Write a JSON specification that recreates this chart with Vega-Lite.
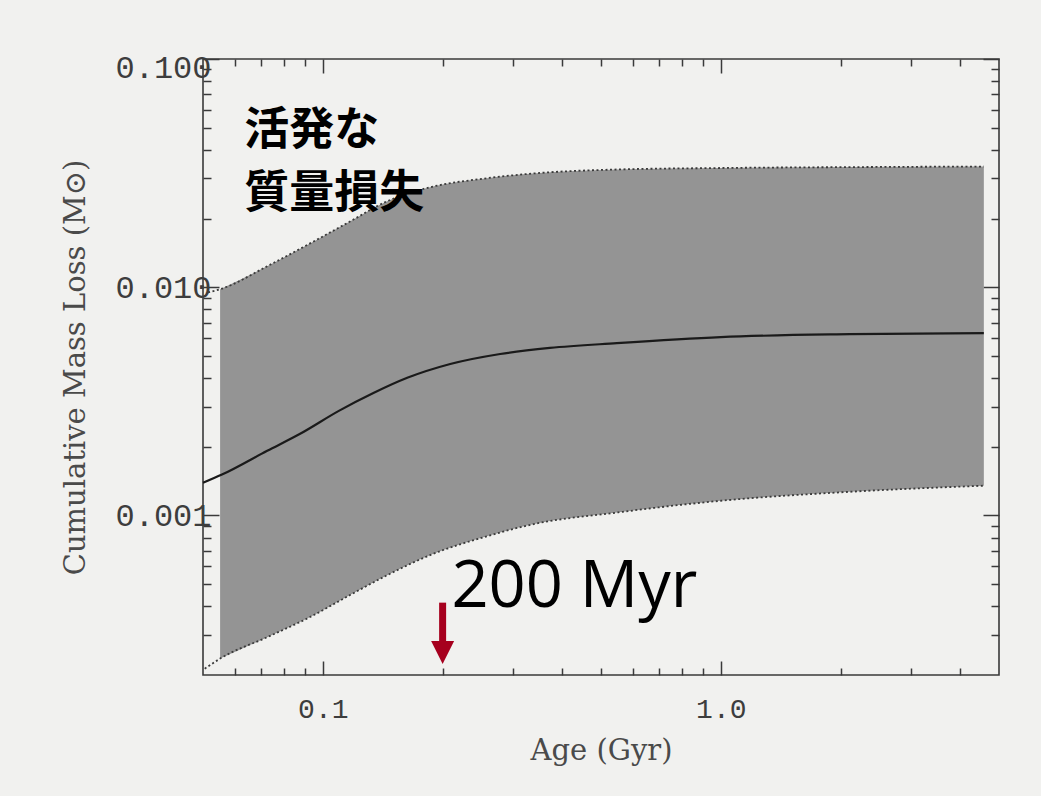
{
  "$schema": "https://vega.github.io/schema/vega-lite/v6.json",
  "width": 796,
  "height": 616,
  "autosize": {"type": "none"},
  "padding": {"left": 203, "top": 59, "right": 42, "bottom": 121},
  "background": "#f1f1ef",
  "config": {
    "view": {"stroke": "#3a3a3a", "strokeWidth": 1.6},
    "axis": {
      "domain": false,
      "grid": false,
      "labelFont": "Liberation Mono",
      "titleFont": "DejaVu Serif",
      "labelColor": "#3d3d3d",
      "titleColor": "#4a4a4a",
      "tickColor": "#3a3a3a",
      "tickWidth": 1.5,
      "labelFontSize": 28,
      "titleFontSize": 29,
      "titleFontWeight": "normal",
      "labelOverlap": false,
      "labelBound": false
    }
  },
  "datasets": {
    "band": [
      {"age": 0.0552, "lo": 0.000236, "hi": 0.0098},
      {"age": 0.0725, "lo": 0.000293, "hi": 0.01236},
      {"age": 0.0929, "lo": 0.000359, "hi": 0.01556},
      {"age": 0.117, "lo": 0.000448, "hi": 0.0194},
      {"age": 0.145, "lo": 0.000547, "hi": 0.0238},
      {"age": 0.189, "lo": 0.000678, "hi": 0.0276},
      {"age": 0.253, "lo": 0.000802, "hi": 0.0299},
      {"age": 0.337, "lo": 0.000915, "hi": 0.0315},
      {"age": 0.548, "lo": 0.00103, "hi": 0.0328},
      {"age": 1.0, "lo": 0.00116, "hi": 0.0333},
      {"age": 2.11, "lo": 0.00127, "hi": 0.0336},
      {"age": 4.58, "lo": 0.00135, "hi": 0.0338}
    ],
    "upper": [
      {"age": 0.0515, "v": 0.0095},
      {"age": 0.0552, "v": 0.0098},
      {"age": 0.0725, "v": 0.01236},
      {"age": 0.0929, "v": 0.01556},
      {"age": 0.117, "v": 0.0194},
      {"age": 0.145, "v": 0.0238},
      {"age": 0.189, "v": 0.0276},
      {"age": 0.253, "v": 0.0299},
      {"age": 0.337, "v": 0.0315},
      {"age": 0.548, "v": 0.0328},
      {"age": 1.0, "v": 0.0333},
      {"age": 2.11, "v": 0.0336},
      {"age": 4.58, "v": 0.0338}
    ],
    "lower": [
      {"age": 0.0505, "v": 0.000213},
      {"age": 0.0552, "v": 0.000236},
      {"age": 0.0725, "v": 0.000293},
      {"age": 0.0929, "v": 0.000359},
      {"age": 0.117, "v": 0.000448},
      {"age": 0.145, "v": 0.000547},
      {"age": 0.189, "v": 0.000678},
      {"age": 0.253, "v": 0.000802},
      {"age": 0.337, "v": 0.000915},
      {"age": 0.548, "v": 0.00103},
      {"age": 1.0, "v": 0.00116},
      {"age": 2.11, "v": 0.00127},
      {"age": 4.58, "v": 0.00135}
    ],
    "mid": [
      {"age": 0.05, "v": 0.00139},
      {"age": 0.0558, "v": 0.00151},
      {"age": 0.0725, "v": 0.00192},
      {"age": 0.0877, "v": 0.00228},
      {"age": 0.11, "v": 0.00288},
      {"age": 0.134, "v": 0.00344},
      {"age": 0.163, "v": 0.00401},
      {"age": 0.209, "v": 0.00461},
      {"age": 0.279, "v": 0.0051},
      {"age": 0.372, "v": 0.00542},
      {"age": 0.548, "v": 0.00569},
      {"age": 1.0, "v": 0.00605},
      {"age": 2.11, "v": 0.00623},
      {"age": 4.58, "v": 0.0063}
    ],
    "jp": [
      {"age": 0.0635, "v": 0.0483, "label": "活発な"},
      {"age": 0.0635, "v": 0.0256, "label": "質量損失"}
    ],
    "myr": [
      {"age": 0.2104, "v": 0.000399, "label": "200 Myr"}
    ],
    "arrow": [
      {"age": 0.2, "top": 0.000415, "bot": 0.000275, "head": 0.000251}
    ]
  },
  "layer": [
    {
      "data": {"name": "band"},
      "mark": {"type": "area", "interpolate": "monotone", "color": "#949494", "opacity": 1},
      "encoding": {
        "x": {
          "field": "age", "type": "quantitative",
          "scale": {"type": "log", "domain": [0.05, 5], "nice": false},
          "axis": {
            "orient": "bottom",
            "values": [0.06, 0.07, 0.08, 0.09, 0.1, 0.2, 0.3, 0.4, 0.5, 0.6, 0.7, 0.8, 0.9, 1, 2, 3, 4],
            "labelExpr": "datum.value == 0.1 ? '0.1' : datum.value == 1 ? '1.0' : ''",
            "tickSize": {"condition": {"test": "datum.value == 0.1 || datum.value == 1", "value": -14}, "value": -7},
            "labelPadding": 34,
            "title": "Age (Gyr)",
            "titlePadding": 6
          }
        },
        "y": {
          "field": "lo", "type": "quantitative",
          "scale": {"type": "log", "domain": [0.0002, 0.1], "nice": false},
          "axis": {
            "orient": "left",
            "values": [0.0003, 0.0004, 0.0005, 0.0006, 0.0007, 0.0008, 0.0009, 0.001, 0.002, 0.003, 0.004, 0.005, 0.006, 0.007, 0.008, 0.009, 0.01, 0.02, 0.03, 0.04, 0.05, 0.06, 0.07, 0.08, 0.09, 0.1],
            "labelExpr": "datum.value == 0.1 ? '0.100' : datum.value == 0.01 ? '0.010' : datum.value == 0.001 ? '0.001' : ''",
            "labelFontSize": 32,
            "tickSize": {"condition": {"test": "datum.value == 0.1 || datum.value == 0.01 || datum.value == 0.001", "value": -16}, "value": -8},
            "labelPadding": 8,
            "labelFlush": 3,
            "labelFlushOffset": 7,
            "title": "Cumulative Mass Loss (M⊙)",
            "titlePadding": 24
          }
        },
        "y2": {"field": "hi"}
      }
    },
    {
      "data": {"name": "upper"},
      "mark": {"type": "line", "interpolate": "monotone", "color": "#3a3a3a", "strokeWidth": 1.8, "strokeDash": [2, 2.5]},
      "encoding": {
        "x": {"field": "age", "type": "quantitative", "scale": {"type": "log", "domain": [0.05, 5], "nice": false}, "axis": null},
        "y": {"field": "v", "type": "quantitative", "scale": {"type": "log", "domain": [0.0002, 0.1], "nice": false}, "axis": null}
      }
    },
    {
      "data": {"name": "lower"},
      "mark": {"type": "line", "interpolate": "monotone", "color": "#3a3a3a", "strokeWidth": 1.8, "strokeDash": [2, 2.5]},
      "encoding": {
        "x": {"field": "age", "type": "quantitative", "scale": {"type": "log", "domain": [0.05, 5], "nice": false}, "axis": null},
        "y": {"field": "v", "type": "quantitative", "scale": {"type": "log", "domain": [0.0002, 0.1], "nice": false}, "axis": null}
      }
    },
    {
      "data": {"name": "mid"},
      "mark": {"type": "line", "interpolate": "monotone", "color": "#1a1a1a", "strokeWidth": 2.2},
      "encoding": {
        "x": {
          "field": "age", "type": "quantitative",
          "scale": {"type": "log", "domain": [0.05, 5], "nice": false},
          "axis": {
            "orient": "top",
            "values": [0.06, 0.07, 0.08, 0.09, 0.1, 0.2, 0.3, 0.4, 0.5, 0.6, 0.7, 0.8, 0.9, 1, 2, 3, 4],
            "labels": false,
            "tickSize": {"condition": {"test": "datum.value == 0.1 || datum.value == 1", "value": -14}, "value": -7},
            "title": null
          }
        },
        "y": {
          "field": "v", "type": "quantitative",
          "scale": {"type": "log", "domain": [0.0002, 0.1], "nice": false},
          "axis": {
            "orient": "right",
            "values": [0.0003, 0.0004, 0.0005, 0.0006, 0.0007, 0.0008, 0.0009, 0.001, 0.002, 0.003, 0.004, 0.005, 0.006, 0.007, 0.008, 0.009, 0.01, 0.02, 0.03, 0.04, 0.05, 0.06, 0.07, 0.08, 0.09, 0.1],
            "labels": false,
            "tickSize": {"condition": {"test": "datum.value == 0.1 || datum.value == 0.01 || datum.value == 0.001", "value": -16}, "value": -8},
            "title": null
          }
        }
      }
    },
    {
      "data": {"name": "jp"},
      "mark": {"type": "text", "align": "left", "baseline": "middle", "font": "Noto Sans CJK JP", "fontWeight": "bold", "fontSize": 45, "color": "#000000"},
      "encoding": {
        "x": {"field": "age", "type": "quantitative", "scale": {"type": "log", "domain": [0.05, 5], "nice": false}, "axis": null},
        "y": {"field": "v", "type": "quantitative", "scale": {"type": "log", "domain": [0.0002, 0.1], "nice": false}, "axis": null},
        "text": {"field": "label"}
      }
    },
    {
      "data": {"name": "myr"},
      "mark": {"type": "text", "align": "left", "baseline": "alphabetic", "font": "Open Sans", "fontSize": 65, "color": "#000000"},
      "encoding": {
        "x": {"field": "age", "type": "quantitative", "scale": {"type": "log", "domain": [0.05, 5], "nice": false}, "axis": null},
        "y": {"field": "v", "type": "quantitative", "scale": {"type": "log", "domain": [0.0002, 0.1], "nice": false}, "axis": null},
        "text": {"field": "label"}
      }
    },
    {
      "data": {"name": "arrow"},
      "mark": {"type": "rule", "color": "#a6001e", "strokeWidth": 7},
      "encoding": {
        "x": {"field": "age", "type": "quantitative", "scale": {"type": "log", "domain": [0.05, 5], "nice": false}, "axis": null},
        "y": {"field": "top", "type": "quantitative", "scale": {"type": "log", "domain": [0.0002, 0.1], "nice": false}, "axis": null},
        "y2": {"field": "bot"}
      }
    },
    {
      "data": {"name": "arrow"},
      "mark": {"type": "point", "shape": "M-1,-1L1,-1L0,1Z", "filled": true, "color": "#a6001e", "opacity": 1, "size": 529, "strokeWidth": 0},
      "encoding": {
        "x": {"field": "age", "type": "quantitative", "scale": {"type": "log", "domain": [0.05, 5], "nice": false}, "axis": null},
        "y": {"field": "head", "type": "quantitative", "scale": {"type": "log", "domain": [0.0002, 0.1], "nice": false}, "axis": null}
      }
    }
  ],
  "resolve": {"axis": {"x": "independent", "y": "independent"}}
}
